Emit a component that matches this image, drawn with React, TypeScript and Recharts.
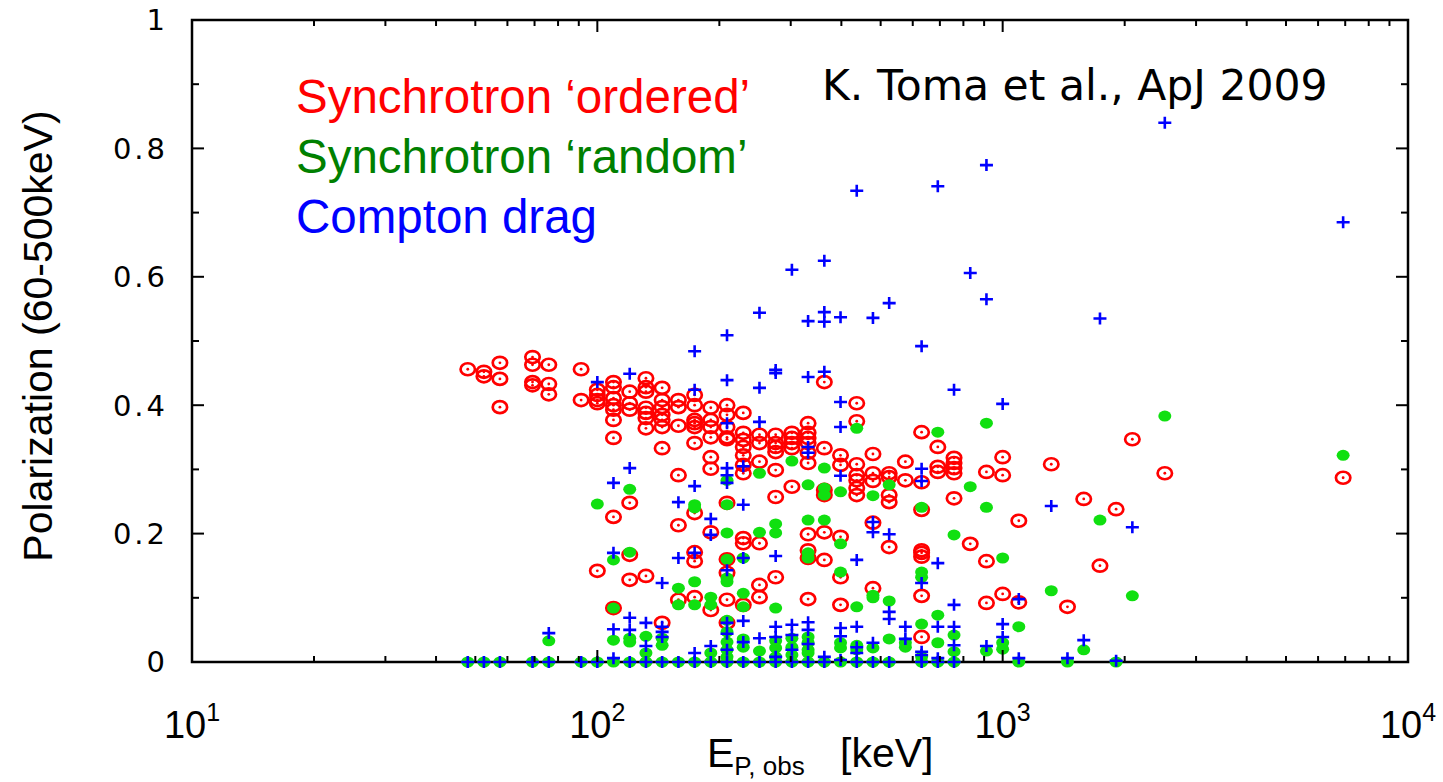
import { ScatterChart, Scatter, XAxis, YAxis, ReferenceArea, Legend } from "recharts";

// energies sit on a 0.04-decade grid, so each row is [E_peak keV, polarizations...]
const ORDERED: [number, number[]][] = [
  [47.9, [0.456]],
  [52.5, [0.452, 0.445]],
  [57.5, [0.466, 0.441, 0.397]],
  [69.2, [0.475, 0.463, 0.436, 0.431]],
  [75.9, [0.463, 0.433, 0.417]],
  [91.2, [0.456, 0.408]],
  [100, [0.424, 0.416, 0.408, 0.403, 0.142]],
  [109.6, [0.436, 0.428, 0.411, 0.4, 0.393, 0.377, 0.349, 0.226, 0.084]],
  [120.2, [0.421, 0.403, 0.393, 0.248, 0.167, 0.128]],
  [131.8, [0.442, 0.428, 0.421, 0.396, 0.388, 0.38, 0.364, 0.134]],
  [144.5, [0.427, 0.408, 0.397, 0.385, 0.377, 0.366, 0.333, 0.061]],
  [158.5, [0.408, 0.397, 0.368, 0.291, 0.213, 0.097]],
  [173.8, [0.416, 0.4, 0.377, 0.372, 0.366, 0.341, 0.232, 0.171, 0.157, 0.101]],
  [190.5, [0.396, 0.377, 0.366, 0.35, 0.319, 0.301, 0.202, 0.081]],
  [208.9, [0.4, 0.385, 0.366, 0.35, 0.347, 0.248, 0.16, 0.139, 0.097, 0.061]],
  [229.1, [0.388, 0.357, 0.346, 0.335, 0.322, 0.307, 0.294, 0.193, 0.185, 0.089]],
  [251.2, [0.354, 0.341, 0.312, 0.185, 0.12, 0.101]],
  [275.4, [0.354, 0.341, 0.335, 0.327, 0.299, 0.257, 0.132]],
  [302, [0.357, 0.349, 0.341, 0.333, 0.273]],
  [331.1, [0.372, 0.357, 0.349, 0.341, 0.326, 0.31, 0.199, 0.174, 0.162, 0.098]],
  [363.1, [0.436, 0.333, 0.268, 0.26, 0.202, 0.159]],
  [398.1, [0.322, 0.307, 0.195, 0.132, 0.089]],
  [436.5, [0.403, 0.375, 0.308, 0.291, 0.283, 0.271, 0.26]],
  [478.6, [0.324, 0.294, 0.282, 0.217, 0.115]],
  [524.8, [0.294, 0.288, 0.26, 0.249, 0.179]],
  [575.4, [0.312, 0.283]],
  [631, [0.358, 0.28, 0.237, 0.174, 0.17, 0.164, 0.103, 0.039]],
  [691.8, [0.335, 0.304, 0.296]],
  [758.6, [0.318, 0.31, 0.302, 0.294, 0.255]],
  [831.8, [0.184]],
  [912, [0.296, 0.157, 0.092]],
  [1000, [0.319, 0.291, 0.106]],
  [1096, [0.22, 0.093]],
  [1318, [0.308]],
  [1445, [0.086]],
  [1585, [0.254]],
  [1738, [0.15]],
  [1905, [0.238]],
  [2089, [0.347]],
  [2512, [0.294]],
  [6918, [0.287]],
];

const RANDOM: [number, number[]][] = [
  [47.9, [0]],
  [52.5, [0]],
  [57.5, [0]],
  [69.2, [0]],
  [75.9, [0.033, 0]],
  [91.2, [0]],
  [100, [0.246, 0]],
  [109.6, [0.159, 0.084, 0.034, 0]],
  [120.2, [0.269, 0.171, 0.037, 0.031, 0]],
  [131.8, [0.04, 0.014, 0]],
  [144.5, [0.037, 0.026, 0]],
  [158.5, [0.115, 0.089, 0]],
  [173.8, [0.245, 0.24, 0.125, 0.089, 0]],
  [190.5, [0.101, 0.089, 0.014, 0]],
  [208.9, [0.283, 0.245, 0.201, 0.16, 0.131, 0.125, 0.065, 0.047, 0.031, 0.019, 0.008, 0]],
  [229.1, [0.162, 0.107, 0.086, 0.036, 0.023, 0]],
  [251.2, [0.294, 0.202, 0.017, 0]],
  [275.4, [0.215, 0.201, 0.084, 0.033, 0.022, 0.008, 0]],
  [302, [0.313, 0.037, 0.023, 0.011, 0]],
  [331.1, [0.276, 0.221, 0.17, 0.162, 0.039, 0.03, 0.019, 0.014, 0]],
  [363.1, [0.302, 0.271, 0.26, 0.221, 0]],
  [398.1, [0.265, 0.184, 0.14, 0.03, 0.022, 0]],
  [436.5, [0.364, 0.086, 0.026, 0.019, 0]],
  [478.6, [0.259, 0.104, 0.1, 0.022, 0]],
  [524.8, [0.276, 0.095, 0.036, 0]],
  [575.4, [0.03, 0.023]],
  [631, [0.241, 0.14, 0.132, 0.059, 0.008, 0]],
  [691.8, [0.358, 0.073, 0.03, 0]],
  [758.6, [0.198, 0.042, 0.016, 0]],
  [831.8, [0.273]],
  [912, [0.372, 0.241, 0.017]],
  [1000, [0.162, 0.03, 0.02]],
  [1096, [0.055, 0]],
  [1318, [0.111]],
  [1445, [0]],
  [1585, [0.019]],
  [1738, [0.221]],
  [1905, [0]],
  [2089, [0.103]],
  [2512, [0.383]],
  [6918, [0.322]],
];

const COMPTON: [number, number[]][] = [
  [47.9, [0]],
  [52.5, [0]],
  [57.5, [0]],
  [69.2, [0]],
  [75.9, [0.045, 0]],
  [91.2, [0]],
  [100, [0.436, 0]],
  [109.6, [0.279, 0.17, 0.051, 0.006]],
  [120.2, [0.449, 0.302, 0.069, 0.05, 0]],
  [131.8, [0.061, 0.025, 0]],
  [144.5, [0.123, 0.055, 0.047, 0.039, 0]],
  [158.5, [0.249, 0.162, 0]],
  [173.8, [0.484, 0.424, 0.274, 0.17, 0.014, 0]],
  [190.5, [0.223, 0.198, 0.025, 0]],
  [208.9, [0.509, 0.439, 0.372, 0.302, 0.291, 0.279, 0.143, 0.061, 0.044, 0.019, 0]],
  [229.1, [0.305, 0.245, 0.162, 0.064, 0.031, 0]],
  [251.2, [0.544, 0.427, 0.374, 0.037, 0]],
  [275.4, [0.455, 0.45, 0.165, 0.055, 0.039, 0.008, 0]],
  [302, [0.611, 0.058, 0.042, 0.019, 0]],
  [331.1, [0.531, 0.444, 0.335, 0.326, 0.062, 0.05, 0.028, 0]],
  [363.1, [0.625, 0.545, 0.53, 0.452, 0.008, 0]],
  [398.1, [0.537, 0.405, 0.366, 0.29, 0.053, 0.04, 0.003]],
  [436.5, [0.734, 0.159, 0.055, 0.023, 0.014, 0]],
  [478.6, [0.536, 0.218, 0.202, 0.03, 0]],
  [524.8, [0.559, 0.199, 0.078, 0.067, 0]],
  [575.4, [0.055, 0.036]],
  [631, [0.492, 0.301, 0.282, 0.123, 0.016, 0.011, 0]],
  [691.8, [0.741, 0.154, 0.055, 0.006, 0]],
  [758.6, [0.424, 0.089, 0.055, 0.026, 0]],
  [831.8, [0.606]],
  [912, [0.774, 0.565, 0.025]],
  [1000, [0.402, 0.059, 0.039]],
  [1096, [0.098, 0.006]],
  [1318, [0.243]],
  [1445, [0.006]],
  [1585, [0.034]],
  [1738, [0.535]],
  [1905, [0.002]],
  [2089, [0.21]],
  [2512, [0.84]],
  [6918, [0.685]],
];

const X_MAJOR = [10, 100, 1000, 10000];
const X_MINOR = [20, 30, 40, 50, 60, 70, 80, 90, 200, 300, 400, 500, 600, 700, 800, 900, 2000, 3000, 4000, 5000, 6000, 7000, 8000, 9000];
const Y_MAJOR = [0, 0.2, 0.4, 0.6, 0.8, 1];
const Y_MINOR = [0.1, 0.3, 0.5, 0.7, 0.9];

const SERIES_NAMES = ["Synchrotron \u2018ordered\u2019", "Synchrotron \u2018random\u2019", "Compton drag"];
const TEXT_COLORS = ["#ff0000", "#008000", "#0000ff"];
const CREDIT = "K. Toma et al., ApJ 2009";

const W = 1443;
const H = 782;
const MARGIN = { top: 20, right: 35, bottom: 60, left: 132 };
const X_AXIS_H = 60;
const Y_AXIS_W = 60;
const PLOT_W = W - MARGIN.left - MARGIN.right - Y_AXIS_W;
const PLOT_H = H - MARGIN.top - MARGIN.bottom - X_AXIS_H;

const SANS = '"Liberation Sans", Arial, sans-serif';
const VERD = '"DejaVu Sans", Verdana, sans-serif';

const flatten = (rows: [number, number[]][]) =>
  rows.flatMap(([e, ps]) => ps.map((p) => ({ e, p })));

const XTick = ({ x, y, payload }: any) => {
  const v = payload.value;
  const major = X_MAJOR.includes(v);
  const len = major ? 12 : 6;
  return (
    <g>
      <line x1={x} y1={y} x2={x} y2={y - len} stroke="#000" strokeWidth={2} />
      <line x1={x} y1={y - PLOT_H} x2={x} y2={y - PLOT_H + len} stroke="#000" strokeWidth={2} />
      {major && (
        <text x={x} y={y + 76} textAnchor="middle" fontFamily={SANS} fontSize={38} fill="#000">
          10
          <tspan dy={-17} fontSize={25}>{Math.round(Math.log10(v))}</tspan>
        </text>
      )}
    </g>
  );
};

const YTick = ({ x, y, payload }: any) => {
  const v = payload.value;
  const major = Y_MAJOR.includes(v);
  const len = major ? 12 : 7;
  const label = v === 0 || v === 1 ? String(v) : v.toFixed(1);
  return (
    <g>
      <line x1={x} y1={y} x2={x + len} y2={y} stroke="#000" strokeWidth={2} />
      <line x1={x + PLOT_W} y1={y} x2={x + PLOT_W - len} y2={y} stroke="#000" strokeWidth={2} />
      {major && (
        <text x={x - 24} y={y} dy="0.36em" textAnchor="end" fontFamily={VERD} fontSize={29} letterSpacing={3} fill="#000">
          {label}
        </text>
      )}
    </g>
  );
};

const XLabel = ({ viewBox }: any) => (
  <text x={viewBox.x + 515} y={viewBox.y + 105} fontFamily={SANS} fontSize={41} fill="#000">
    E
    <tspan dy={8} fontSize={26}>P, obs</tspan>
    <tspan x={viewBox.x + 648} dy={-8}>[keV]</tspan>
  </text>
);

const YLabel = () => (
  <text transform="translate(52, 336) rotate(-90)" textAnchor="middle" fontFamily={SANS} fontSize={41} fill="#000">
    Polarization (60-500keV)
  </text>
);

const Ring = ({ cx, cy }: any) => (
  <g>
    <ellipse cx={cx} cy={cy} rx={7.2} ry={6} fill="none" stroke="#ff0000" strokeWidth={2.7} />
    <circle cx={cx} cy={cy} r={1.4} fill="#ff0000" />
  </g>
);

const Dot = ({ cx, cy }: any) => <ellipse cx={cx} cy={cy} rx={6.5} ry={5.5} fill="#10e010" />;

const Plus = ({ cx, cy }: any) => (
  <path d={`M${cx - 6.5},${cy}H${cx + 6.5}M${cx},${cy - 6}V${cy + 6}`} stroke="#0000ff" strokeWidth={2.6} fill="none" />
);

const LegendBox = () => (
  <div style={{ position: "relative" }}>
    <div style={{ position: "absolute", left: 296, top: 67, fontFamily: SANS, fontSize: 47.5, lineHeight: "60px", whiteSpace: "nowrap", textAlign: "left" }}>
      {SERIES_NAMES.map((n, i) => (
        <div key={n} style={{ color: TEXT_COLORS[i] }}>{n}</div>
      ))}
    </div>
    <div style={{ position: "absolute", left: 822, top: 61, fontFamily: VERD, fontSize: 42.5, lineHeight: "50px", whiteSpace: "nowrap", color: "#000" }}>
      {CREDIT}
    </div>
  </div>
);

export default function App() {
  return (
    <div style={{ position: "absolute", left: 0, top: 0, background: "#fff" }}>
      <ScatterChart width={W} height={H} margin={MARGIN}>
        <XAxis
          type="number"
          dataKey="e"
          scale="log"
          domain={[10, 10000]}
          ticks={[...X_MAJOR, ...X_MINOR].sort((a, b) => a - b)}
          interval={0}
          height={X_AXIS_H}
          axisLine={false}
          tickLine={false}
          tickSize={0}
          tickMargin={0}
          tick={<XTick />}
          label={<XLabel />}
        />
        <YAxis
          type="number"
          dataKey="p"
          domain={[0, 1]}
          ticks={[...Y_MAJOR, ...Y_MINOR].sort((a, b) => a - b)}
          interval={0}
          width={Y_AXIS_W}
          axisLine={false}
          tickLine={false}
          tickSize={0}
          tickMargin={0}
          tick={<YTick />}
          label={<YLabel />}
        />
        <Legend
          layout="vertical"
          align="center"
          verticalAlign="middle"
          wrapperStyle={{ left: 0, top: 0, width: W, height: 0 }}
          content={() => <LegendBox />}
        />
        <Scatter name={SERIES_NAMES[0]} data={flatten(ORDERED)} shape={<Ring />} isAnimationActive={false} />
        <Scatter name={SERIES_NAMES[1]} data={flatten(RANDOM)} shape={<Dot />} isAnimationActive={false} />
        <Scatter name={SERIES_NAMES[2]} data={flatten(COMPTON)} shape={<Plus />} isAnimationActive={false} />
        <ReferenceArea x1={10} x2={10000} y1={0} y2={1} fill="none" stroke="#000" strokeWidth={2.5} ifOverflow="visible" />
      </ScatterChart>
    </div>
  );
}
